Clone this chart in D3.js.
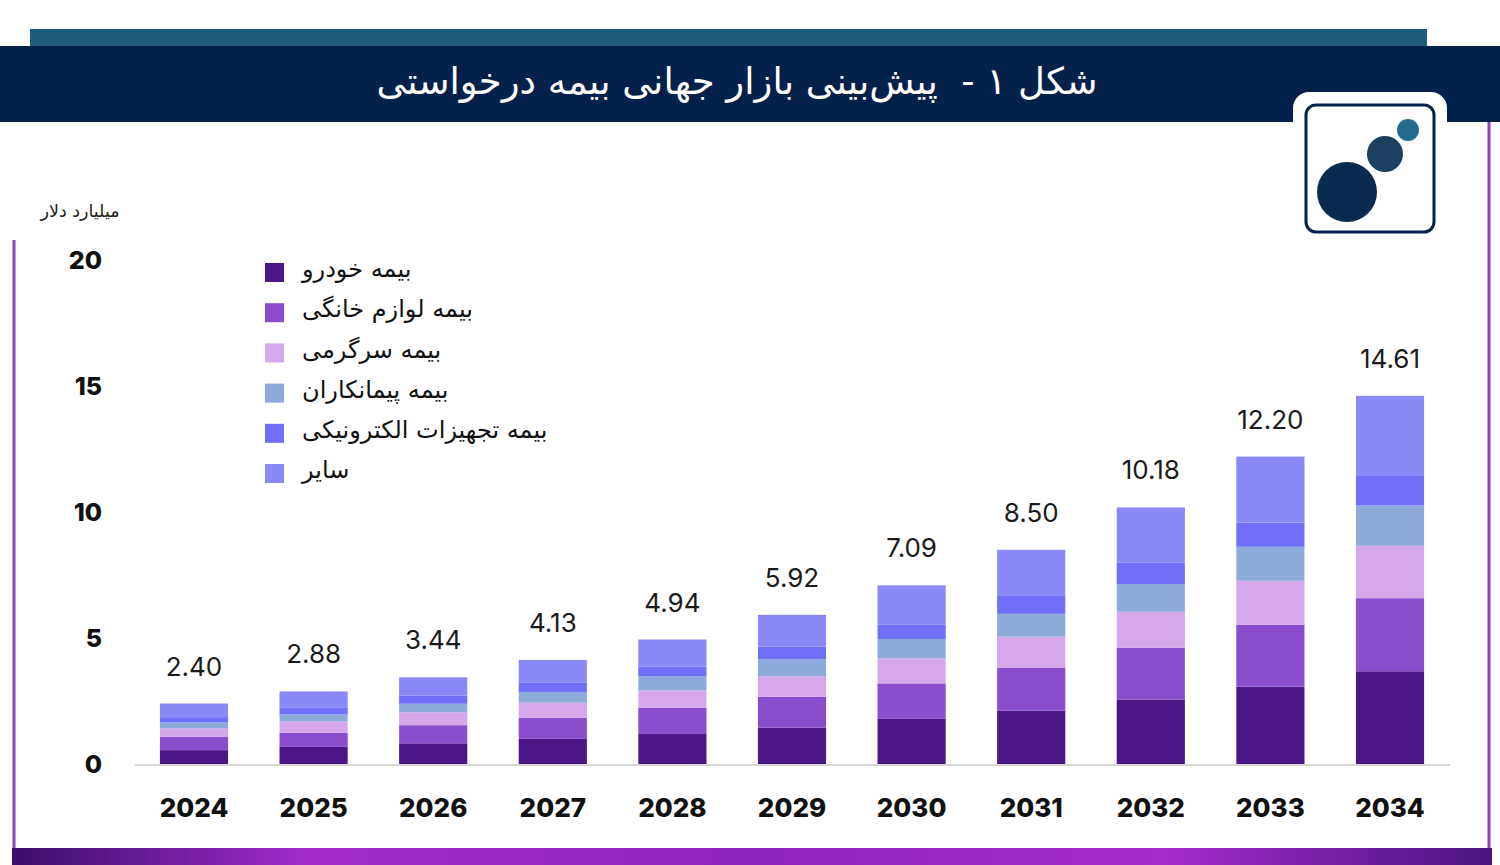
<!DOCTYPE html>
<html><head><meta charset="utf-8">
<script src="https://cdn.jsdelivr.net/npm/d3@7"></script>
<style>html,body{margin:0;padding:0;background:#fff;}svg{display:block;}</style>
</head><body>
<svg id="c" width="1500" height="865"></svg>
<script>
const years = ["2024","2025","2026","2027","2028","2029","2030","2031","2032","2033","2034"];
const totals = [2.40,2.88,3.44,4.13,4.94,5.92,7.09,8.50,10.18,12.20,14.61];
const seriesNames = ["بیمه خودرو","بیمه لوازم خانگی","بیمه سرگرمی","بیمه پیمانکاران","بیمه تجهیزات الکترونیکی","سایر"];
const carIns      = [0.55,0.68,0.82,1.00,1.19,1.44,1.79,2.12,2.56,3.07,3.68];
const homeIns     = [0.52,0.56,0.72,0.84,1.05,1.23,1.41,1.71,2.05,2.46,2.90];
const leisureIns  = [0.34,0.45,0.51,0.59,0.68,0.81,0.99,1.22,1.43,1.74,2.08];
const contractIns = [0.24,0.28,0.34,0.43,0.56,0.68,0.77,0.91,1.10,1.35,1.60];
const electroIns  = [0.21,0.28,0.32,0.38,0.38,0.50,0.58,0.71,0.86,0.96,1.20];
const otherIns    = [0.54,0.63,0.73,0.89,1.08,1.26,1.55,1.83,2.18,2.62,3.15];
const yTicks = [0,5,10,15,20];
const colors = ["#4b1686","#8a4ecd","#d4a8ea","#8eaadb","#716ef8","#8b88f8"];

const svg = d3.select("#c");
const defs = svg.append("defs");
const grad = defs.append("linearGradient").attr("id","band").attr("x1","0").attr("x2","1");
[[0,"#3a0e6c"],[0.2,"#a22bca"],[0.5,"#8f24bd"],[0.78,"#a52bcb"],[1,"#4a1480"]].forEach(s=>grad.append("stop").attr("offset",s[0]).attr("stop-color",s[1]));

// header
svg.append("rect").attr("x",30).attr("y",29).attr("width",1397).attr("height",18).attr("fill","#1f5b7b");
svg.append("rect").attr("x",0).attr("y",46).attr("width",1500).attr("height",76).attr("fill","#03214a");
svg.append("text").attr("x",737).attr("y",94).attr("text-anchor","middle").style("white-space","pre")
  .attr("font-family","DejaVu Sans").attr("font-size",37).attr("fill","#fff")
  .text("شکل ۱ -\u00A0 پیش‌بینی بازار جهانی بیمه درخواستی");

// frame
svg.append("line").attr("x1",14).attr("x2",14).attr("y1",240).attr("y2",850).attr("stroke","#8e3fc2").attr("stroke-width",3);
svg.append("line").attr("x1",1489).attr("x2",1489).attr("y1",122).attr("y2",850).attr("stroke","#8e3fc2").attr("stroke-width",3);
svg.append("rect").attr("x",12).attr("y",848).attr("width",1480).attr("height",17).attr("fill","url(#band)");

// logo
svg.append("rect").attr("x",1293).attr("y",92).attr("width",154).attr("height",170).attr("rx",16).attr("fill","#fff");
svg.append("rect").attr("x",1306).attr("y",105).attr("width",128).attr("height",127).attr("rx",10).attr("fill","#fff").attr("stroke","#03214a").attr("stroke-width",3);
svg.append("circle").attr("cx",1347).attr("cy",192).attr("r",30).attr("fill","#0b2a50");
svg.append("circle").attr("cx",1385).attr("cy",154).attr("r",18).attr("fill","#1d3f60");
svg.append("circle").attr("cx",1408).attr("cy",130).attr("r",11).attr("fill","#236a8f");

// scales
const y = d3.scaleLinear().domain([0,20]).range([764,260]);
const x = d3.scaleBand().domain(years).range([136,1448]).paddingInner(0.43).paddingOuter(0.2);

// baseline
svg.append("line").attr("x1",135).attr("x2",1450).attr("y1",y(0)+1).attr("y2",y(0)+1).attr("stroke","#d8d8d8").attr("stroke-width",2);

// y axis label + ticks
svg.append("text").attr("x",80).attr("y",217).attr("text-anchor","middle").attr("font-family","DejaVu Sans").attr("font-size",17.5).attr("fill","#222").text("میلیارد دلار");
const yAxis = d3.axisLeft(y).tickValues(yTicks).tickSize(0).tickPadding(0);
const ga = svg.append("g").attr("transform","translate(102,0)").call(yAxis);
ga.select(".domain").remove();
ga.selectAll("text").attr("font-family","Inter, 'Liberation Sans', sans-serif").attr("font-weight",800).attr("font-size",25).attr("fill","#111").attr("dy","0.35em");

// stacked bars
const rows = years.map((yr,i)=>({year:yr,s0:carIns[i],s1:homeIns[i],s2:leisureIns[i],s3:contractIns[i],s4:electroIns[i],s5:otherIns[i]}));
const stack = d3.stack().keys(["s0","s1","s2","s3","s4","s5"])(rows);
svg.append("g").selectAll("g").data(stack).join("g").attr("fill",(d,i)=>colors[i])
  .selectAll("rect").data(d=>d).join("rect")
  .attr("x",d=>x(d.data.year)).attr("width",x.bandwidth())
  .attr("y",d=>y(d[1])).attr("height",d=>y(d[0])-y(d[1]));

// value labels
svg.append("g").selectAll("text").data(years).join("text")
  .attr("x",d=>x(d)+x.bandwidth()/2).attr("y",(d,i)=>y(totals[i])-28)
  .attr("text-anchor","middle").attr("font-family","Inter, sans-serif").attr("font-size",26).attr("fill","#1a1a1a")
  .text((d,i)=>totals[i].toFixed(2));

// x axis
const xAxis = d3.axisBottom(x).tickSize(0).tickPadding(0);
const gx = svg.append("g").attr("transform","translate(0,808)").call(xAxis);
gx.select(".domain").remove();
gx.selectAll("text").attr("font-family","Inter, 'Liberation Sans', sans-serif").attr("font-weight",800).attr("font-size",26).attr("fill","#111").attr("dy","0.35em");

// legend
const lg = svg.append("g");
seriesNames.forEach((n,i)=>{
  const yy = 272 + i*40.2;
  lg.append("rect").attr("x",265).attr("y",yy-9).attr("width",19).attr("height",19).attr("fill",colors[i]);
  lg.append("text").attr("x",302).attr("y",yy-2).attr("dy","0.3em").attr("font-family","DejaVu Sans").attr("font-size",24).attr("fill","#111").attr("direction","rtl").attr("text-anchor","end").text(n);
});
</script>
</body></html>
